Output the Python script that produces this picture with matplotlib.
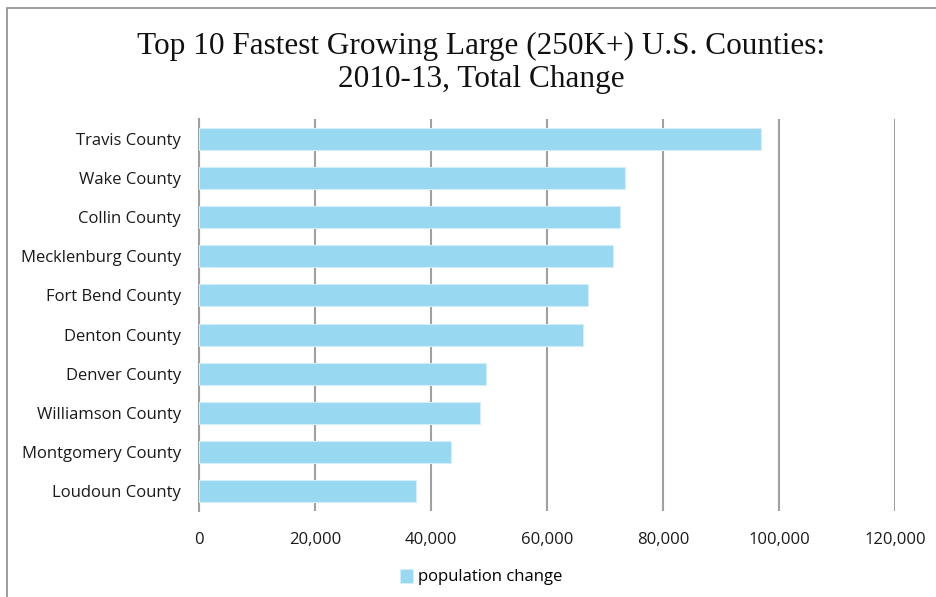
import matplotlib.pyplot as plt
from matplotlib.patches import Rectangle
from matplotlib.ticker import FuncFormatter

counties = ["Travis County", "Wake County", "Collin County", "Mecklenburg County",
            "Fort Bend County", "Denton County", "Denver County", "Williamson County",
            "Montgomery County", "Loudoun County"]
change = [96900, 73400, 72600, 71400, 67100, 66200, 49400, 48400, 43400, 37400]
x_ticks = [0, 20000, 40000, 60000, 80000, 100000, 120000]

W, H = 936, 597
fig = plt.figure(figsize=(W / 100, H / 100), dpi=100)
ax = fig.add_axes([199 / W, 1 - 511 / H, 696 / W, 392 / H])

pos = list(range(len(counties)))
ax.barh(pos, change, height=0.56, color="#99D8F1", edgecolor="#D4EEF9",
        linewidth=0.8, label="population change", zorder=3)
ax.set_ylim(len(counties) - 0.5, -0.5)
ax.set_yticks(pos)
ax.set_yticklabels(counties, fontsize=12, family="Open Sans", color="#1a1a1a")
ax.set_xlim(0, 120000)
ax.set_xticks(x_ticks)
ax.xaxis.set_major_formatter(FuncFormatter(lambda v, p: "{:,.0f}".format(v)))
for lab in ax.get_xticklabels():
    lab.set_family("Open Sans")
    lab.set_fontsize(12)
    lab.set_color("#1a1a1a")
ax.tick_params(axis="both", length=0)
ax.tick_params(axis="x", pad=15)
ax.tick_params(axis="y", pad=13)
ax.grid(axis="x", color="#A0A0A0", linewidth=1.5, zorder=0)
for s in ["top", "right", "bottom"]:
    ax.spines[s].set_visible(False)
ax.spines["left"].set_color("#A0A0A0")
ax.spines["left"].set_linewidth(1.5)

fig.text(481 / W, 1 - 63 / H,
         "Top 10 Fastest Growing Large (250K+) U.S. Counties:\n2010-13, Total Change",
         ha="center", va="center", fontsize=22.5, family="Liberation Serif",
         linespacing=1.15, color="#111111")

leg = fig.legend(loc="center", bbox_to_anchor=(481 / W, 1 - 577 / H), frameon=False,
                 prop={"family": "Open Sans", "size": 12}, handlelength=0.75,
                 handleheight=0.95, handletextpad=0.3)

fig.patches.append(Rectangle((7 / W, -0.1), 1.2, 1 - 8 / H + 0.1, transform=fig.transFigure,
                             fill=False, edgecolor="#8C8C8C", linewidth=1.2))

fig.savefig("out.png", dpi=100)
